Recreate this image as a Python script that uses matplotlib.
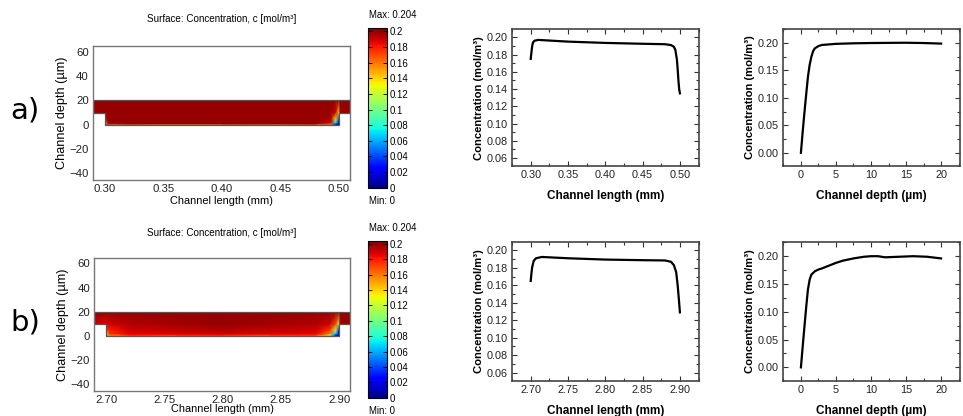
import numpy as np
import matplotlib
matplotlib.use("Agg")
import matplotlib.pyplot as plt
from matplotlib import font_manager
from matplotlib.patches import Polygon
from matplotlib.ticker import AutoMinorLocator, FormatStrFormatter

# concentration field nodes (x in mm, y in um)
field_y = [0, 0.7, 2, 5, 10, 20]

field_a_x = [0.28, 0.30, 0.303, 0.32, 0.48, 0.493, 0.497, 0.50, 0.501, 0.52]
field_a_c = [
    [0.20, 0.03, 0.10, 0.13, 0.13, 0.09, 0.02, 0.00, 0.20, 0.20],
    [0.20, 0.08, 0.19, 0.20, 0.20, 0.17, 0.04, 0.00, 0.20, 0.20],
    [0.20, 0.16, 0.20, 0.20, 0.20, 0.19, 0.08, 0.01, 0.20, 0.20],
    [0.20, 0.195, 0.20, 0.20, 0.20, 0.197, 0.14, 0.04, 0.20, 0.20],
    [0.20, 0.20, 0.20, 0.20, 0.20, 0.20, 0.19, 0.14, 0.20, 0.20],
    [0.20, 0.20, 0.20, 0.20, 0.20, 0.20, 0.20, 0.20, 0.20, 0.20],
]

field_b_x = [2.68, 2.70, 2.703, 2.72, 2.80, 2.88, 2.892, 2.897, 2.90, 2.901, 2.92]
field_b_c = [
    [0.20, 0.03, 0.10, 0.13, 0.13, 0.12, 0.06, 0.01, 0.00, 0.20, 0.20],
    [0.20, 0.08, 0.16, 0.18, 0.18, 0.175, 0.12, 0.03, 0.00, 0.20, 0.20],
    [0.20, 0.14, 0.175, 0.185, 0.19, 0.185, 0.16, 0.07, 0.01, 0.20, 0.20],
    [0.20, 0.17, 0.18, 0.19, 0.195, 0.19, 0.175, 0.12, 0.03, 0.20, 0.20],
    [0.20, 0.185, 0.19, 0.195, 0.20, 0.195, 0.19, 0.17, 0.12, 0.20, 0.20],
    [0.20, 0.20, 0.20, 0.20, 0.20, 0.20, 0.20, 0.20, 0.20, 0.20, 0.20],
]

# concentration along the channel length
len_a_x = [0.300, 0.301, 0.302, 0.303, 0.305, 0.31, 0.32, 0.35, 0.40, 0.45,
           0.48, 0.488, 0.492, 0.494, 0.496, 0.497, 0.498, 0.499, 0.500]
len_a_c = [0.175, 0.183, 0.190, 0.194, 0.196, 0.197, 0.1965, 0.195, 0.1935, 0.1925,
           0.192, 0.191, 0.189, 0.185, 0.174, 0.163, 0.150, 0.140, 0.135]

len_b_x = [2.700, 2.701, 2.702, 2.704, 2.707, 2.715, 2.75, 2.80, 2.85, 2.88,
           2.888, 2.892, 2.895, 2.897, 2.899, 2.900]
len_b_c = [0.165, 0.174, 0.181, 0.188, 0.191, 0.1925, 0.191, 0.1895, 0.1888, 0.1885,
           0.187, 0.183, 0.175, 0.160, 0.140, 0.129]

# concentration along the channel depth
depth_a_x = [0, 0.25, 0.5, 0.75, 1.0, 1.25, 1.5, 1.75, 2.0, 2.5, 3.0, 4, 5,
             7.5, 10, 12.5, 15, 17.5, 20]
depth_a_c = [0.0, 0.038, 0.073, 0.106, 0.138, 0.160, 0.175, 0.185, 0.190, 0.194,
             0.196, 0.197, 0.198, 0.199, 0.1995, 0.1998, 0.200, 0.1995, 0.1985]

depth_b_x = [0, 0.25, 0.5, 0.75, 1.0, 1.25, 1.5, 2.0, 2.5, 3, 4, 5, 6, 7.5,
             9, 10, 11, 12, 14, 16, 18, 20]
depth_b_c = [0.0, 0.037, 0.073, 0.108, 0.140, 0.158, 0.167, 0.173, 0.176, 0.178,
             0.183, 0.188, 0.192, 0.196, 0.199, 0.200, 0.200, 0.198, 0.199, 0.200,
             0.199, 0.196]

W, H = 963, 416
SANS = "Liberation Sans"

# the x label of the surface plots is squeezed horizontally
_names = {f.name for f in font_manager.fontManager.ttflist}
if "Liberation Sans Narrow" in _names:
    NARROW, NS = "Liberation Sans Narrow", 1.0
else:
    NARROW, NS = "Liberation Sans", 0.84


def fbox(left, top, right, bottom):
    return [left / W, 1 - bottom / H, (right - left) / W, (bottom - top) / H]


def draw_field(fig, ax, cax, fx, fc, x0, x1, xlim, xticks, top_px, cb_top, cb_bot, xpad):
    X, Y = np.meshgrid(fx, field_y)
    mesh = ax.pcolormesh(X, Y, np.array(fc), cmap="jet", vmin=0, vmax=0.204,
                         shading="gouraud")
    verts = [(xlim[0], 10), (x0, 10), (x0, 0), (x1, 0), (x1, 10),
             (xlim[1], 10), (xlim[1], 20), (xlim[0], 20)]
    poly = Polygon(verts, closed=True, facecolor="none", edgecolor="#555555", lw=0.9)
    ax.add_patch(poly)
    mesh.set_clip_path(poly)

    ax.set_xlim(xlim)
    ax.set_ylim(-45.5, 64.7)
    ax.set_xticks(xticks)
    ax.xaxis.set_major_formatter(FormatStrFormatter("%.2f"))
    ax.set_yticks([-40, -20, 0, 20, 40, 60])
    ax.tick_params(length=0, pad=3, labelsize=8.2, colors="#222222",
                   labelfontfamily=SANS)
    for s in ax.spines.values():
        s.set_color("#777777")
        s.set_linewidth(1.0)
    ax.set_xlabel("Channel length (mm)", fontsize=9.4 * NS, family=NARROW,
                  labelpad=xpad)
    ax.set_ylabel("Channel depth (µm)", fontsize=9.1, family=SANS, labelpad=1)

    ticks = np.arange(0, 0.2001, 0.02)
    cb = fig.colorbar(mesh, cax=cax, ticks=ticks)
    cb.ax.set_yticklabels(["%g" % round(t, 2) for t in ticks])
    cb.ax.tick_params(labelsize=6.9, length=3, width=0.6, pad=2,
                      direction="in", left=True, right=True, labelfontfamily=SANS)
    cb.outline.set_linewidth(0.8)

    cx = (ax.get_position().x0 + ax.get_position().x1) / 2
    fig.text(cx, 1 - top_px / H, "Surface: Concentration, c [mol/m³]",
             ha="center", va="center", fontsize=7.1, family=SANS)
    fig.text(369 / W, 1 - (cb_top - 13) / H, "Max: 0.204", ha="left", va="center",
             fontsize=6.9, family=SANS)
    fig.text(369 / W, 1 - (cb_bot + 13.5) / H, "Min: 0", ha="left", va="center",
             fontsize=6.9, family=SANS)


def style_line(ax, xlim, xticks, xfmt, ylim, yticks, yfmt, xlabel):
    ax.set_xlim(xlim)
    ax.set_ylim(ylim)
    ax.set_xticks(xticks)
    ax.set_yticks(yticks)
    ax.xaxis.set_major_formatter(FormatStrFormatter(xfmt))
    ax.yaxis.set_major_formatter(FormatStrFormatter(yfmt))
    ax.xaxis.set_minor_locator(AutoMinorLocator(2))
    ax.yaxis.set_minor_locator(AutoMinorLocator(2))
    ax.tick_params(which="both", direction="in", top=True, right=True,
                   width=0.8, color="#333333")
    ax.tick_params(which="major", length=3.5, pad=3, labelsize=7.8,
                   labelfontfamily=SANS, labelcolor="#222222")
    ax.tick_params(which="minor", length=2)
    for s in ax.spines.values():
        s.set_color("#444444")
        s.set_linewidth(1.2)
    ax.set_xlabel(xlabel, fontsize=8.5, fontweight="bold", family=SANS,
                  labelpad=7)
    ax.set_ylabel("Concentration (mol/m³)", fontsize=8.1, fontweight="bold",
                  family=SANS, labelpad=2)


fig = plt.figure(figsize=(W / 100, H / 100), dpi=100)

# row a)
ax_fa = fig.add_axes(fbox(93, 46, 350, 180))
cax_a = fig.add_axes(fbox(368, 28.3, 387, 187.7))
draw_field(fig, ax_fa, cax_a, field_a_x, field_a_c, 0.30, 0.50, (0.2897, 0.5094),
           [0.30, 0.35, 0.40, 0.45, 0.50], 19, 28.3, 187.7, 1.2)

ax_la = fig.add_axes(fbox(511.7, 29.3, 699.3, 166))
ax_la.plot(len_a_x, len_a_c, color="black", lw=1.6)
style_line(ax_la, (0.2745, 0.526), [0.30, 0.35, 0.40, 0.45, 0.50], "%.2f",
           (0.0507, 0.2093), np.arange(0.06, 0.2001, 0.02), "%.2f",
           "Channel length (mm)")

ax_da = fig.add_axes(fbox(782.7, 29, 960, 166))
ax_da.plot(depth_a_x, depth_a_c, color="black", lw=1.6)
style_line(ax_da, (-2.6, 22.7), [0, 5, 10, 15, 20], "%d",
           (-0.024, 0.225), [0, 0.05, 0.10, 0.15, 0.20], "%.2f",
           "Channel depth (µm)")

# row b)
ax_fb = fig.add_axes(fbox(94.3, 257.7, 350, 391))
cax_b = fig.add_axes(fbox(368, 240.7, 387, 397.7))
draw_field(fig, ax_fb, cax_b, field_b_x, field_b_c, 2.70, 2.90, (2.6897, 2.9094),
           [2.70, 2.75, 2.80, 2.85, 2.90], 232.7, 240.7, 397.7, -1.2)

ax_lb = fig.add_axes(fbox(511.7, 242.3, 699.3, 380.7))
ax_lb.plot(len_b_x, len_b_c, color="black", lw=1.6)
style_line(ax_lb, (2.6745, 2.926), [2.70, 2.75, 2.80, 2.85, 2.90], "%.2f",
           (0.0507, 0.2093), np.arange(0.06, 0.2001, 0.02), "%.2f",
           "Channel length (mm)")

ax_db = fig.add_axes(fbox(782.7, 242.3, 960, 380.7))
ax_db.plot(depth_b_x, depth_b_c, color="black", lw=1.6)
style_line(ax_db, (-2.6, 22.7), [0, 5, 10, 15, 20], "%d",
           (-0.024, 0.225), [0, 0.05, 0.10, 0.15, 0.20], "%.2f",
           "Channel depth (µm)")

fig.text(25 / W, 1 - 110 / H, "a)", fontsize=21, ha="center", va="center")
fig.text(25 / W, 1 - 323 / H, "b)", fontsize=21, ha="center", va="center")

fig.savefig("out.png", dpi=100)
